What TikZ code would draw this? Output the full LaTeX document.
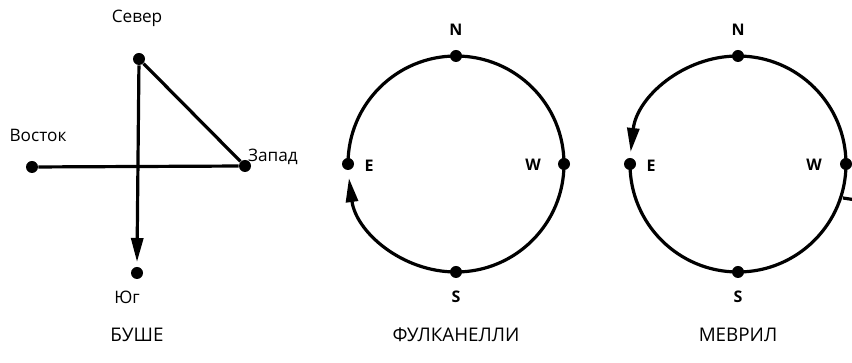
\documentclass[tikz,border=0pt]{standalone}
\usepackage{fontspec}
\setmainfont{Open Sans}
\usetikzlibrary{arrows.meta}
\tikzset{
  pt/.style={circle,fill,inner sep=0pt,minimum size=6pt},
  trait/.style={line width=1.6pt},
  fl/.style={-{Triangle[length=12pt,width=6pt]}},
  lbl/.style={font=\fontsize{8.6}{10}\selectfont},
  card/.style={font=\fontsize{8}{9}\selectfont\bfseries},
  titre/.style={font=\fontsize{9.4}{11}\selectfont}
}
\begin{document}
\begin{tikzpicture}[x=0.5pt,y=0.5pt]
	\useasboundingbox (0,0) rectangle (852,363);
	%Points de Bouchet
	\node[pt] (Sev) at (139,304) {};
	\node[pt] (Vos) at (32,196) {};
	\node[pt] (Zap) at (245,197) {};
	\node[pt] (Yug) at (137,90) {};
	\coordinate (Fl) at (137,101);
	\node[lbl] (tSev) at (137,345) {Север};
	\node[lbl] (tVos) at (38,228) {Восток};
	\node[lbl] (tZap) at (273,206) {Запад};
	\node[lbl] (tYug) at (127,66) {Юг};
	\node[titre] (T1) at (137,28) {БУШЕ};
	%Aretes de Bouchet
	\draw[trait] (Sev) -- (Zap);
	\draw[trait] (Vos) -- (Zap);
	\draw[trait,fl] (Sev) -- (Fl);
	%Cercle de Fulcanelli
	\draw[trait,fl] (456,199) ++(180:54pt) arc[start angle=180,end angle=-172.5,radius=54pt];
	\node[pt] (N1) at (456,307) {};
	\node[pt] (E1) at (348,199) {};
	\node[pt] (W1) at (564,199) {};
	\node[pt] (S1) at (456,91) {};
	\node[card] at (456,333) {N};
	\node[card] at (369,197) {E};
	\node[card] at (533,198) {W};
	\node[card] at (456,66) {S};
	\node[titre] (T2) at (456,28) {ФУЛКАНЕЛЛИ};
	%Cercle de Mevril
	\draw[trait,fl] (738,199) ++(180:54pt) arc[start angle=180,end angle=533.6,radius=54pt];
	\node[pt] (N2) at (738,307) {};
	\node[pt] (E2) at (630,199) {};
	\node[pt] (W2) at (846,199) {};
	\node[pt] (S2) at (738,91) {};
	\coordinate (Q1) at (843,165);
	\coordinate (Q2) at (856,163);
	\draw[trait] (Q1) -- (Q2);
	\node[card] at (738,333) {N};
	\node[card] at (651,197) {E};
	\node[card] at (814,198) {W};
	\node[card] at (738,66) {S};
	\node[titre] (T3) at (738,28) {МЕВРИЛ};
\end{tikzpicture}
\end{document}
